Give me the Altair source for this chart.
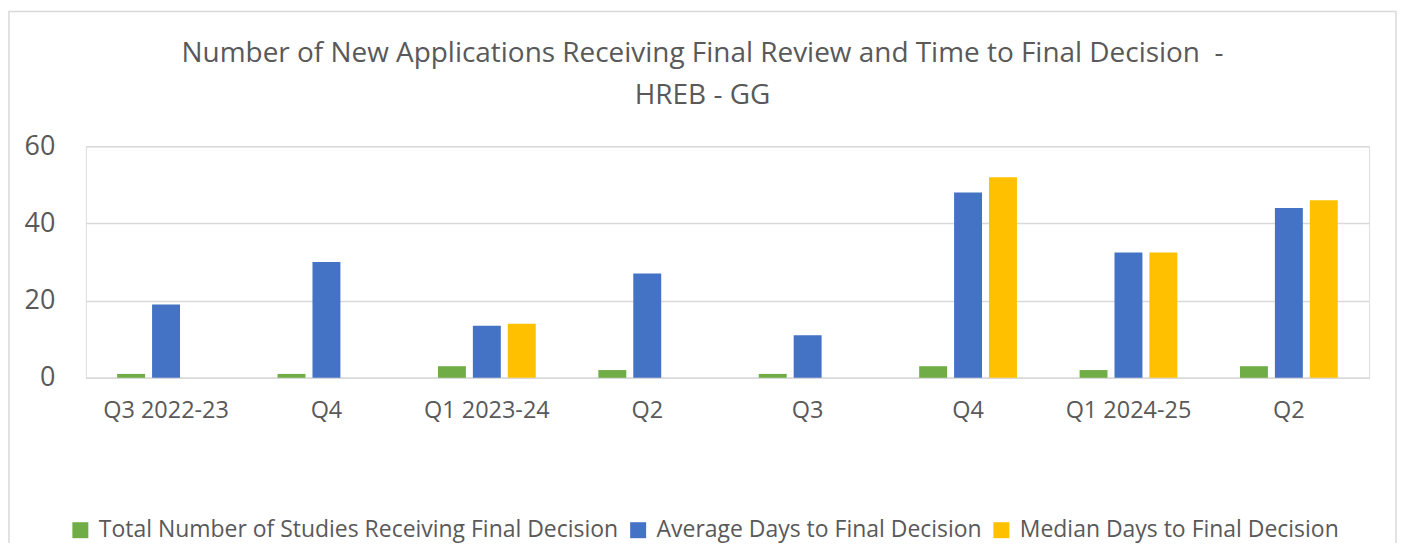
import altair as alt
import pandas as pd

quarters = ["Q3 2022-23", "Q4", "Q1 2023-24", "Q2", "Q3", "Q4 ", "Q1 2024-25", "Q2 "]
total_studies = [1, 1, 3, 2, 1, 3, 2, 3]
average_days = [19, 30, 13.5, 27, 11, 48, 32.5, 44]
median_days = [None, None, 14, None, None, 52, 32.5, 46]

series_names = [
    "Total Number of Studies Receiving Final Decision",
    "Average Days to Final Decision",
    "Median Days to Final Decision",
]
series_colors = ["#70AD47", "#4472C4", "#FFC000"]

title_lines = [
    "Number of New Applications Receiving Final Review and Time to Final Decision\u00a0\u00a0-",
    "HREB - GG",
]

rows = []
for i, q in enumerate(quarters):
    for name, vals in zip(series_names, [total_studies, average_days, median_days]):
        v = vals[i]
        if v is not None:
            rows.append({"quarter": q, "series": name, "value": v})
df = pd.DataFrame(rows)

FONT = "Open Sans"

bars = alt.Chart(df).mark_bar().encode(
    x=alt.X("quarter:N", sort=quarters,
            scale=alt.Scale(domain=quarters, paddingInner=0.347, paddingOuter=0.1735),
            axis=alt.Axis(title=None, labelAngle=0, labelFontSize=23.5, labelColor="#595959",
                          labelFont=FONT, ticks=False, domainColor="#D9D9D9", domainWidth=1.5,
                          labelPadding=21,
                          labelExpr="trim(datum.label)")),
    xOffset=alt.XOffset("series:N", sort=series_names,
                        scale=alt.Scale(domain=series_names, paddingInner=0.2, paddingOuter=0.1)),
    y=alt.Y("value:Q", scale=alt.Scale(domain=[0, 60]),
            axis=alt.Axis(title=None, values=[0, 20, 40, 60], labelFontSize=27,
                          labelColor="#595959", labelFont=FONT, ticks=False, domain=False,
                          gridColor="#D9D9D9", gridWidth=1.5, labelPadding=31)),
    color=alt.Color("series:N", sort=series_names,
                    scale=alt.Scale(domain=series_names, range=series_colors),
                    legend=alt.Legend(title=None, orient="none", direction="horizontal",
                                      legendX=-17, legendY=373, symbolType="square",
                                      symbolSize=256, symbolStrokeWidth=0,
                                      labelFontSize=23, labelFont=FONT, labelColor="#595959",
                                      columnPadding=8, labelOffset=7, labelLimit=0)),
)

frame = alt.Chart(pd.DataFrame({"a": [0]})).mark_rect(
    filled=False, stroke="#D9D9D9", strokeWidth=1.5
).encode(x=alt.value(-77), x2=alt.value(1313), y=alt.value(-135), y2=alt.value(430))

chart = alt.layer(frame, bars).properties(
    width=1286, height=232,
    title=alt.TitleParams(
        title_lines,
        fontSize=28, font=FONT, fontWeight="normal", color="#595959",
        anchor="middle", dx=-25, offset=-99, lineHeight=42),
    autosize=alt.AutoSizeParams(type="none"),
    padding={"left": 78, "top": 138, "right": 30, "bottom": 165},
).configure_view(stroke=None).configure(background="white")

chart.save("out.html", embed_options={"renderer": "svg", "actions": False})
